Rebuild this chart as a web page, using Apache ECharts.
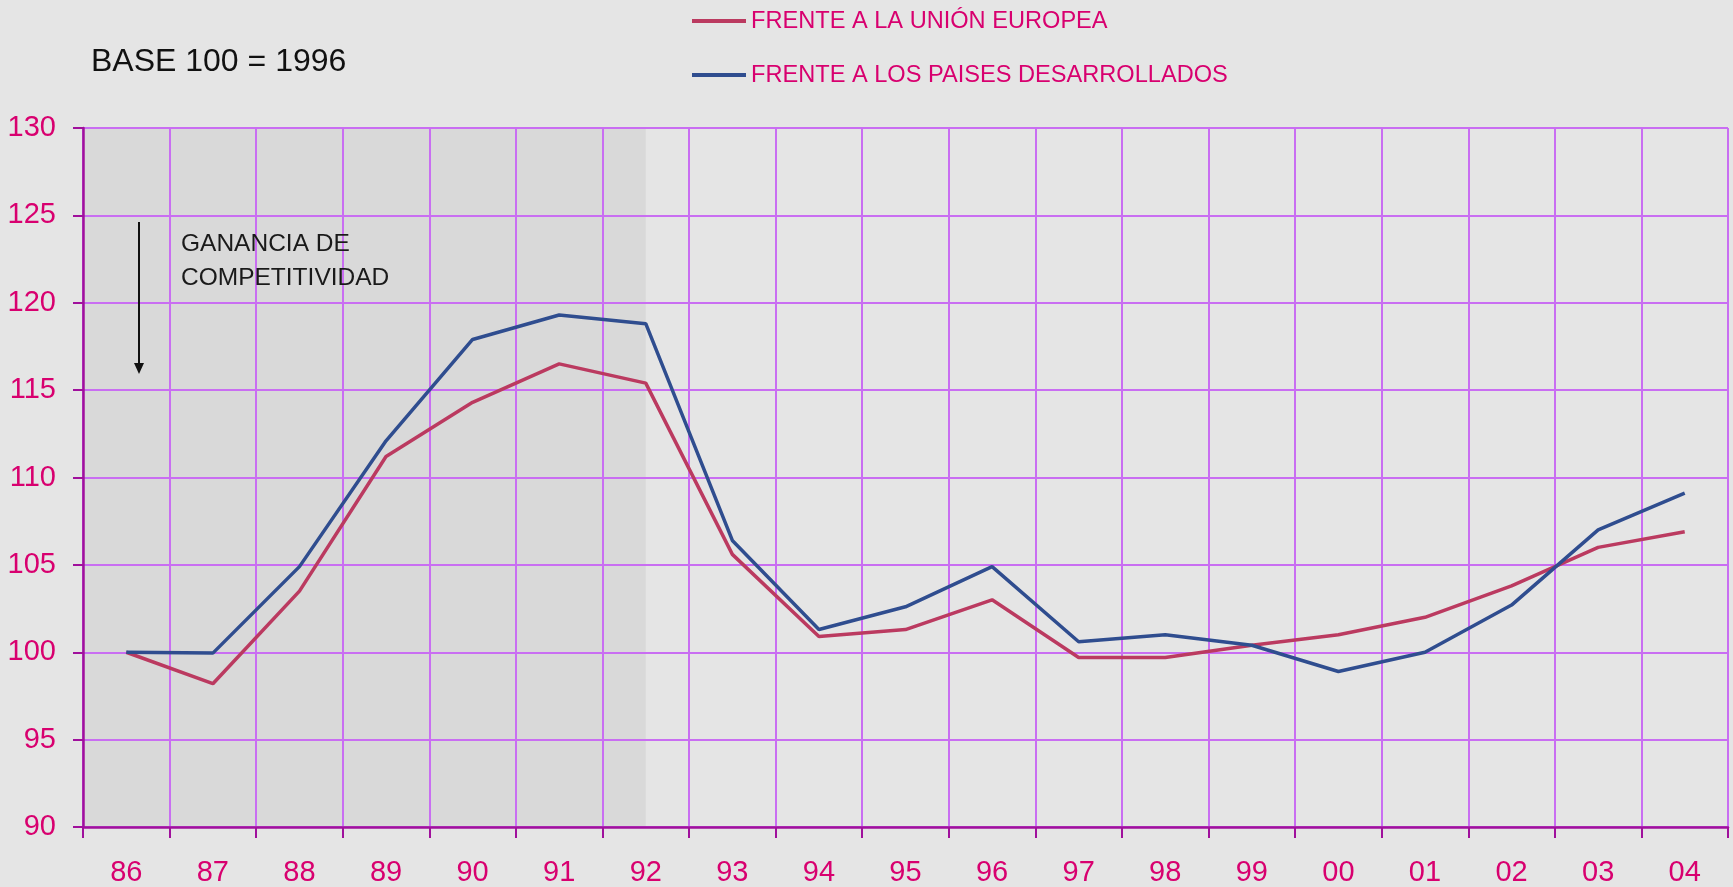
<!DOCTYPE html>
<html>
<head>
<meta charset="utf-8">
<script src="https://cdn.jsdelivr.net/npm/echarts@6/dist/echarts.min.js"></script>
<style>
  html, body { margin: 0; padding: 0; background: #e5e5e5; }
  #main { width: 1733px; height: 887px; }
</style>
</head>
<body>
<div id="main"></div>
<script>
// años (etiquetas del eje x)
var years = ['86', '87', '88', '89', '90', '91', '92', '93', '94', '95',
             '96', '97', '98', '99', '00', '01', '02', '03', '04'];

// frente a la Unión Europea
var ueValues = [100.0, 98.2, 103.5, 111.2, 114.3, 116.5, 115.4, 105.6, 100.9, 101.3,
                103.0, 99.7, 99.7, 100.4, 101.0, 102.0, 103.8, 106.0, 106.9];

// frente a los países desarrollados
var desValues = [100.0, 99.95, 104.9, 112.1, 117.9, 119.3, 118.8, 106.4, 101.3, 102.6,
                 104.9, 100.6, 101.0, 100.4, 98.9, 100.0, 102.7, 107.0, 109.1];

var yTicks = { min: 90, max: 130, step: 5 };
var shadedUntil = '92';

var pink = '#d8006f';
var gridColor = '#c96ef2';
var axisColor = '#a0109c';
var font = 'Liberation Sans, Arial, sans-serif';

var myChart = echarts.init(document.getElementById('main'));

myChart.setOption({
  backgroundColor: '#e5e5e5',
  animation: false,
  title: {
    text: 'BASE 100 = 1996',
    left: 91,
    top: 46,
    padding: 0,
    textStyle: { color: '#111', fontSize: 32, fontWeight: 'normal', fontFamily: font }
  },
  legend: {
    orient: 'vertical',
    left: 692,
    top: 9,
    padding: 0,
    itemGap: 30,
    itemWidth: 54,
    itemHeight: 4,
    icon: 'rect',
    textStyle: { color: pink, fontSize: 23.6, lineHeight: 24, fontFamily: font },
    data: ['FRENTE A LA UNIÓN EUROPEA', 'FRENTE A LOS PAISES DESARROLLADOS']
  },
  grid: { left: 83, right: 5, top: 128, bottom: 60 },
  xAxis: {
    type: 'category',
    data: years,
    boundaryGap: true,
    z: 1.5,
    axisLine: { lineStyle: { color: axisColor, width: 2.5 } },
    axisTick: { show: true, length: 11, lineStyle: { color: axisColor, width: 2 } },
    axisLabel: { color: pink, fontSize: 29, margin: 31, fontFamily: font },
    splitLine: { show: true, lineStyle: { color: gridColor, width: 2 } }
  },
  yAxis: {
    type: 'value',
    min: yTicks.min,
    max: yTicks.max,
    interval: yTicks.step,
    z: 1.5,
    axisLine: { show: true, lineStyle: { color: axisColor, width: 2.5 } },
    axisTick: { show: true, length: 10, lineStyle: { color: axisColor, width: 2 } },
    axisLabel: { color: pink, fontSize: 29, margin: 27, fontFamily: font },
    splitLine: { show: true, lineStyle: { color: gridColor, width: 2 } }
  },
  series: [
    {
      name: 'FRENTE A LA UNIÓN EUROPEA',
      type: 'line',
      data: ueValues,
      symbol: 'none',
      z: 3,
      lineStyle: { color: '#bb3a60', width: 3.5 },
      itemStyle: { color: '#bb3a60' },
      markArea: {
        silent: true,
        z: 1,
        itemStyle: { color: '#d9d9d9', opacity: 1 },
        data: [[{ yAxis: yTicks.max }, { xAxis: shadedUntil, yAxis: yTicks.min }]]
      }
    },
    {
      name: 'FRENTE A LOS PAISES DESARROLLADOS',
      type: 'line',
      data: desValues,
      symbol: 'none',
      z: 3,
      lineStyle: { color: '#2f4d8f', width: 3.5 },
      itemStyle: { color: '#2f4d8f' }
    }
  ],
  graphic: [
    {
      type: 'text',
      left: 181,
      top: 227,
      z: 10,
      style: {
        text: 'GANANCIA DE\nCOMPETITIVIDAD',
        fill: '#1a1a1a',
        fontSize: 24.5,
        lineHeight: 34,
        fontFamily: font
      }
    },
    {
      type: 'line',
      z: 10,
      shape: { x1: 139, y1: 222, x2: 139, y2: 364 },
      style: { stroke: '#111', lineWidth: 2 }
    },
    {
      type: 'polygon',
      z: 10,
      shape: { points: [[134, 363], [144, 363], [139, 374]] },
      style: { fill: '#111' }
    }
  ]
});
</script>
</body>
</html>
